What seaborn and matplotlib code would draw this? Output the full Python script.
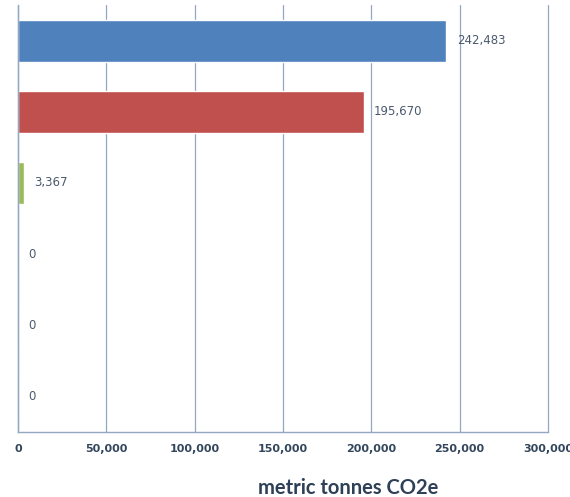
import numpy as np
import pandas as pd
import matplotlib.pyplot as plt
import seaborn as sns

sns.set_style('white')
plt.rcParams['font.family'] = ['DejaVu Sans']

# data (category names are not shown in the picture)
categories = ['Source 1', 'Source 2', 'Source 3', 'Source 4', 'Source 5', 'Source 6']
values = [242483, 195670, 3367, 0, 0, 0]
colors = ['#4F81BD', '#C0504D', '#9BBB59', '#8064A2', '#4BACC6', '#F79646']
xticks = [0, 50000, 100000, 150000, 200000, 250000, 300000]

df = pd.DataFrame({'category': categories, 'value': values})

fig = plt.figure(figsize=(5.7, 4.97), dpi=100)
ax = fig.add_axes([0.0316, 0.1308, 0.9298, 0.8591])

sns.barplot(data=df, x='value', y='category', hue='category', palette=colors,
            orient='h', width=0.59, legend=False, ax=ax, saturation=1)

grid_col = '#93A7C2'
ax.set_xlim(0, 300000)
ax.set_ylim(5.5, -0.5)
ax.set_xticks(xticks)
ax.set_xticklabels([f'{t:,}' for t in xticks], fontsize=8, fontweight='bold', color='#34465C')
ax.tick_params(axis='x', length=3, width=1, color=grid_col, pad=6)
ax.set_yticks([])
ax.set_ylabel('')
ax.xaxis.grid(True, color=grid_col, linewidth=0.9)
for gl in ax.get_xgridlines():
    gl.set_clip_on(False)
ax.set_axisbelow(True)
for side in ['top', 'right']:
    ax.spines[side].set_visible(False)
for side in ['left', 'bottom']:
    ax.spines[side].set_color(grid_col)
    ax.spines[side].set_linewidth(1)

for i, v in enumerate(values):
    ax.annotate(f'{v:,}', xy=(v, i), xytext=(7.5, 0), textcoords='offset points',
                va='center', ha='left', fontsize=8.5, color='#4A5A6E')

ax.set_xlabel('')
fig.text(0.61, 0.018, 'metric tonnes CO2e', ha='center', va='center',
         fontsize=14.5, fontweight='bold', color='#2E4057', family=['Lato', 'DejaVu Sans'])

fig.savefig('out.png', dpi=100)
